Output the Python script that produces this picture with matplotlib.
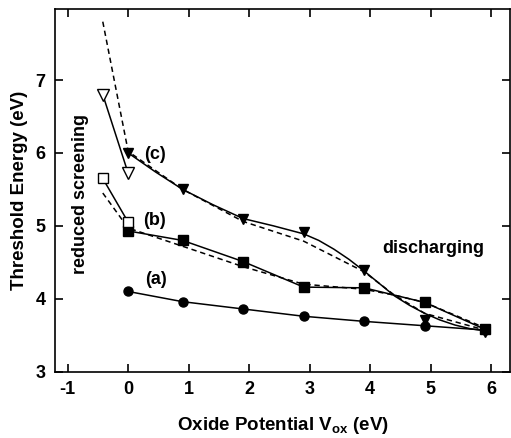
import matplotlib
matplotlib.use('Agg')
import matplotlib.pyplot as plt

plt.rcParams['font.family'] = 'Liberation Sans'
plt.rcParams['font.weight'] = 'bold'
plt.rcParams['axes.labelweight'] = 'bold'
plt.rcParams['axes.unicode_minus'] = False
plt.rcParams['mathtext.fontset'] = 'custom'
plt.rcParams['mathtext.rm'] = 'Liberation Sans:bold'
plt.rcParams['mathtext.bf'] = 'Liberation Sans:bold'

# measured thresholds, filled markers
v_ox = [0, 0.9, 1.9, 2.9, 3.9, 4.9, 5.9]
e_a = [4.10, 3.96, 3.86, 3.76, 3.69, 3.63, 3.57]
e_b = [4.93, 4.80, 4.51, 4.16, 4.15, 3.95, 3.58]
e_c = [6.00, 5.50, 5.10, 4.91, 4.39, 3.71, 3.55]

# reduced screening points (open markers)
v_open = [-0.42, 0]
e_b_open = [5.65, 5.05]
e_c_open = [6.80, 5.72]

# smooth fit through (c)
v_fit_c = [0, 0.45, 0.9, 1.4, 1.9, 2.4, 2.9, 3.15, 3.4, 3.65, 3.9, 4.15,
           4.4, 4.65, 4.9, 5.15, 5.4, 5.65, 5.9]
e_fit_c = [6.00, 5.74, 5.50, 5.29, 5.10, 5.00, 4.89, 4.80, 4.68, 4.54,
           4.38, 4.21, 4.04, 3.91, 3.80, 3.71, 3.64, 3.59, 3.56]

# model curves (dashed)
v_model = [-0.42, 0, 0.9, 1.9, 2.9, 3.9, 4.4, 4.9, 5.9]
m_b = [5.45, 4.97, 4.72, 4.44, 4.20, 4.13, 4.05, 3.95, 3.60]
m_c = [7.80, 6.02, 5.50, 5.06, 4.79, 4.37, 4.05, 3.80, 3.57]

fig = plt.figure(figsize=(5.11, 4.38), dpi=100)
ax = fig.add_axes([0.1076, 0.1514, 0.8904, 0.8274])

lw = 1.1
dash = (0, (3.5, 2.5))
ax.plot(v_model, m_c, color='black', lw=lw, linestyle=dash)
ax.plot(v_model, m_b, color='black', lw=lw, linestyle=dash)

ax.plot(v_ox, e_a, '-o', color='black', lw=lw, ms=6.5)
ax.plot(v_ox, e_b, '-s', color='black', lw=lw, ms=6.5)
ax.plot(v_fit_c, e_fit_c, '-', color='black', lw=lw)
ax.plot(v_ox, e_c, 'v', color='black', ms=7.5)

ax.plot(v_open, e_c_open, '-v', color='black', lw=lw, ms=8,
        markerfacecolor='white')
ax.plot(v_open, e_b_open, '-s', color='black', lw=lw, ms=6.5,
        markerfacecolor='white')

txt = dict(fontsize=13, fontweight='bold', ha='center', va='center')
ax.text(0.44, 5.98, '(c)', **txt)
ax.text(0.44, 5.08, '(b)', **txt)
ax.text(0.46, 4.26, '(a)', **txt)
ax.text(5.05, 4.69, 'discharging', **txt)
ax.text(-0.79, 5.44, 'reduced screening', rotation=90, **txt)

ax.set_xlim(-1.21, 6.31)
ax.set_ylim(3, 7.97)
ax.set_xticks(range(-1, 7))
ax.set_yticks(range(3, 8))
ax.tick_params(direction='in', length=6, width=1.2, top=True, right=True,
               labelsize=13, pad=7)
for lab in ax.get_xticklabels() + ax.get_yticklabels():
    lab.set_fontweight('bold')
for s in ax.spines.values():
    s.set_linewidth(1.2)

ax.set_xlabel(r'Oxide Potential V$_{\rm ox}$ (eV)', fontsize=13.5,
              fontweight='bold', labelpad=12)
ax.set_ylabel('Threshold Energy (eV)', fontsize=13.5, fontweight='bold',
              labelpad=5)

fig.savefig('out.png', dpi=100)
